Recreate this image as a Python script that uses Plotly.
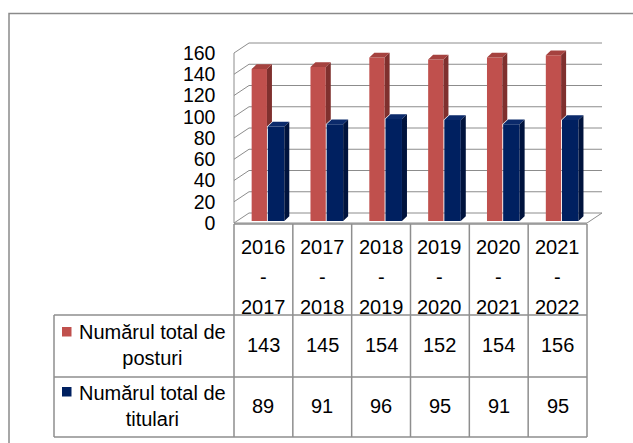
import plotly.graph_objects as go
import numpy as np

# ---------------- data ----------------
categories = ["2016 - 2017", "2017 - 2018", "2018 - 2019", "2019 - 2020", "2020 - 2021", "2021 - 2022"]
year_start = ["2016", "2017", "2018", "2019", "2020", "2021"]
year_end = ["2017", "2018", "2019", "2020", "2021", "2022"]
series_labels = ["Numărul total de<br>posturi", "Numărul total de<br>titulari"]
posturi = [143, 145, 154, 152, 154, 156]
titulari = [89, 91, 96, 95, 91, 95]
y_ticks = [0, 20, 40, 60, 80, 100, 120, 140, 160]

# ---------------- styles / geometry ----------------
W, H = 633, 443
FONT = "Liberation Sans, Arial, sans-serif"
RED, RED_SIDE, RED_TOP = "#C0504D", "#7F302E", "#A5423F"
BLUE, BLUE_SIDE, BLUE_TOP = "#002060", "#00133D", "#0B2A6B"
GRID = "#8C8C8C"
TABLE = "#8E8E8E"


def px(x):
    return x / W


def py(y):
    return 1 - y / H


n = len(categories)
xs = np.arange(n)
X0_PX, X1_PX = 234, 587          # front plane, category -0.5 .. n-0.5
ppu_x = (X1_PX - X0_PX) / n
Y0_PX = 223                       # value 0 on front plane
ppu_y = 170 / 160
x_range = [-0.56, n - 0.5 + 0.33]
y_range = [-2.5, 174]
dom_x = [px(X0_PX + (x_range[0] + 0.5) * ppu_x), px(X0_PX + (x_range[1] + 0.5) * ppu_x)]
dom_y = [py(Y0_PX - y_range[0] * ppu_y), py(Y0_PX - y_range[1] * ppu_y)]

DX, DY = 15 / ppu_x, 10 / ppu_y          # wall depth
BDX, BDY = 5 / ppu_x, 4.7 / ppu_y        # bar depth
LIFT = 2 / ppu_y                          # bars sit slightly behind front edge
RED_OFF, RED_W = -0.2, 0.26
BLUE_OFF, BLUE_W = 0.075, 0.28


def cat_to_paper(c):
    return px(X0_PX + (c + 0.5) * ppu_x)


fig = go.Figure()

# front faces
fig.add_trace(go.Bar(x=xs, y=posturi, base=[LIFT] * n, offset=RED_OFF, width=RED_W,
                     marker=dict(color=RED, line=dict(width=0)), name="posturi"))
fig.add_trace(go.Bar(x=xs, y=titulari, base=[LIFT] * n, offset=BLUE_OFF, width=BLUE_W,
                     marker=dict(color=BLUE, line=dict(width=0)), name="titulari"))


def poly_trace(polys, color):
    X, Y = [], []
    for p in polys:
        for (a, b) in p:
            X.append(a)
            Y.append(b)
        X.append(p[0][0]); Y.append(p[0][1])
        X.append(None); Y.append(None)
    return go.Scatter(x=X, y=Y, mode="lines", fill="toself", fillcolor=color,
                      line=dict(width=0, color=color), hoverinfo="skip", showlegend=False)


red_side, red_top, blue_side, blue_top = [], [], [], []
for j in range(n):
    vr, vb = posturi[j] + LIFT, titulari[j] + LIFT
    r0, r1 = j + RED_OFF, j + RED_OFF + RED_W
    b0, b1 = j + BLUE_OFF, j + BLUE_OFF + BLUE_W
    red_side.append([(r1, vb), (r1, vr), (r1 + BDX, vr + BDY), (r1 + BDX, vb + BDY)])
    red_top.append([(r0, vr), (r1, vr), (r1 + BDX, vr + BDY), (r0 + BDX, vr + BDY)])
    blue_side.append([(b1, LIFT), (b1, vb), (b1 + BDX, vb + BDY), (b1 + BDX, LIFT + BDY)])
    blue_top.append([(b0, vb), (b1, vb), (b1 + BDX, vb + BDY), (b0 + BDX, vb + BDY)])

fig.add_trace(poly_trace(red_side, RED_SIDE))
fig.add_trace(poly_trace(red_top, RED_TOP))
fig.add_trace(poly_trace(blue_top, BLUE_TOP))
fig.add_trace(poly_trace(blue_side, BLUE_SIDE))

shapes = []
# back wall gridlines + left-wall slants
for v in y_ticks:
    shapes.append(dict(type="line", xref="x", yref="y", x0=-0.5 + DX, x1=n - 0.5 + DX,
                       y0=v + DY, y1=v + DY, line=dict(color=GRID, width=1), layer="below"))
    shapes.append(dict(type="line", xref="x", yref="y", x0=-0.5, x1=-0.5 + DX,
                       y0=v, y1=v + DY, line=dict(color=GRID, width=1), layer="below"))
shapes.append(dict(type="line", xref="x", yref="y", x0=-0.5, x1=-0.5, y0=0, y1=y_ticks[-1],
                   line=dict(color=GRID, width=1), layer="below"))
# floor
shapes.append(dict(type="line", xref="x", yref="y", x0=-0.5, x1=n - 0.5, y0=0, y1=0,
                   line=dict(color=GRID, width=1), layer="below"))
shapes.append(dict(type="line", xref="x", yref="y", x0=n - 0.5, x1=n - 0.5 + DX, y0=0, y1=DY,
                   line=dict(color=GRID, width=1), layer="below"))

# ---------------- data table ----------------
T_TOP, T_HDR, T_ROW, T_BOT = 224, 315, 377, 437
LEG_L = 54
tl = dict(color=TABLE, width=1.5)
xl, xr = cat_to_paper(-0.5), cat_to_paper(n - 0.5)
shapes.append(dict(type="line", xref="paper", yref="paper", x0=xl, x1=xr, y0=py(T_TOP), y1=py(T_TOP), line=tl))
for yy in (T_HDR, T_ROW, T_BOT):
    shapes.append(dict(type="line", xref="paper", yref="paper", x0=px(LEG_L), x1=xr, y0=py(yy), y1=py(yy), line=tl))
for c in range(n + 1):
    xp = cat_to_paper(c - 0.5)
    shapes.append(dict(type="line", xref="paper", yref="paper", x0=xp, x1=xp, y0=py(T_TOP), y1=py(T_BOT), line=tl))
shapes.append(dict(type="line", xref="paper", yref="paper", x0=px(LEG_L), x1=px(LEG_L), y0=py(T_HDR), y1=py(T_BOT), line=tl))
# legend keys
for (y_a, col) in ((327, RED), (387, BLUE)):
    shapes.append(dict(type="rect", xref="paper", yref="paper", x0=px(62), x1=px(71.5),
                       y0=py(y_a), y1=py(y_a + 9.5), fillcolor=col, line=dict(width=0)))
# outer frame
shapes.append(dict(type="rect", xref="paper", yref="paper", x0=px(9), x1=px(645), y0=py(13.5), y1=py(455),
                   line=dict(color="#8A8A8A", width=1.5)))

ann = []
tf = dict(family=FONT, size=20, color="#000000")
base = dict(showarrow=False, font=tf, xanchor="center", yanchor="middle", yref="paper")
for j in range(n):
    ann.append(dict(base, x=j, xref="x", y=py(246.5), text=year_start[j]))
    ann.append(dict(base, x=j, xref="x", y=py(276.5), text="-"))
    ann.append(dict(base, x=j, xref="x", y=py(306.5), text=year_end[j]))
    ann.append(dict(base, x=j, xref="x", y=py(345), text=str(posturi[j])))
    ann.append(dict(base, x=j, xref="x", y=py(406), text=str(titulari[j])))
ann.append(dict(base, x=px(152), xref="paper", y=py(345), text=series_labels[0], align="center"))
ann.append(dict(base, x=px(152), xref="paper", y=py(405.5), text=series_labels[1], align="center"))

fig.update_layout(
    width=W, height=H, margin=dict(l=0, r=0, t=0, b=0, pad=0, autoexpand=False),
    paper_bgcolor="white", plot_bgcolor="rgba(0,0,0,0)",
    barmode="overlay", showlegend=False,
    shapes=shapes, annotations=ann,
    xaxis=dict(domain=dom_x, range=x_range, showgrid=False, zeroline=False, showline=False,
               showticklabels=False, ticks="", automargin=False),
    yaxis=dict(domain=dom_y, range=y_range, showgrid=False, zeroline=False, showline=False,
               tickvals=y_ticks, ticks="", ticklabelstandoff=14, automargin=False,
               tickfont=dict(family=FONT, size=19.5, color="#000000")),
)

page_js = ("document.documentElement.style.margin='0px';"
           "document.documentElement.style.overflow='hidden';"
           "document.body.style.margin='0px';"
           "document.body.style.overflow='hidden';"
           "var g=document.getElementsByClassName('plotly-graph-div')[0];"
           "g.style.position='fixed';g.style.left='0px';g.style.top='0px';")
fig.write_html("out.html", config={"displayModeBar": False}, post_script=page_js)
